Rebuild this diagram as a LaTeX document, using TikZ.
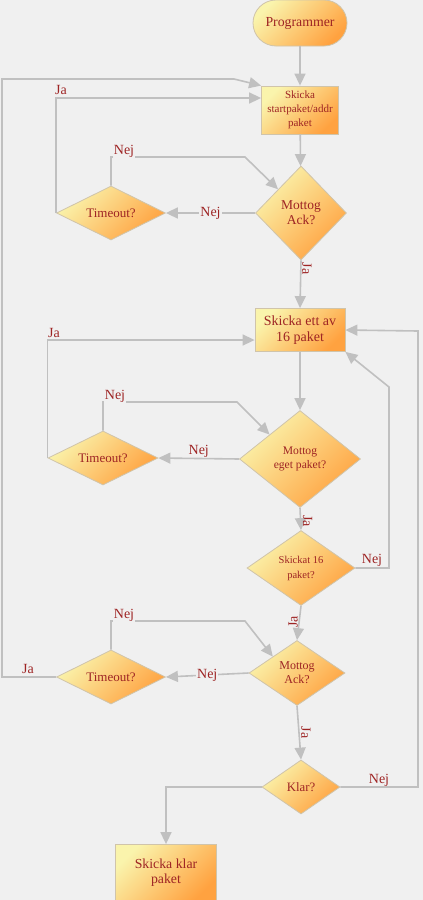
\documentclass[tikz,border=0pt]{standalone}
\usepackage{fontspec}
\setmainfont{Liberation Serif}
\usetikzlibrary{shapes.geometric,arrows.meta}
\definecolor{bg}{RGB}{240,240,240}
\definecolor{lyellow}{RGB}{250,244,172}
\definecolor{dorange}{RGB}{255,162,64}
\definecolor{rim}{RGB}{208,196,170}
\definecolor{wire}{RGB}{192,192,192}
\definecolor{ink}{RGB}{158,36,36}
\newcommand{\fs}[2]{\fontsize{#1}{#2}\selectfont}

\begin{document}
\begin{tikzpicture}[x=1pt,y=-1pt]

      \tikzset{filled/.style={draw=rim, line width=0.8pt, top color=lyellow, bottom color=dorange, shading angle=45, text=ink, align=center, inner sep=0pt},
               terminal/.style={filled, rectangle, rounded corners=23pt},
               boxed/.style={filled, rectangle},
               choice/.style={filled, diamond},
               flow/.style={draw=wire, line width=1.6pt, -{Triangle[length=12pt,width=11pt]}},
               lbl/.style={text=ink, font=\fs{14}{14}, inner sep=1pt}}
      \fill[bg] (0,0) rectangle (423,900);
      \useasboundingbox (0,0) rectangle (423,900);
%% Nodes
      	\node[terminal, minimum width=94pt, minimum height=46pt, font=\fs{13.8}{15}] (prog) at (300,23) {Programmer};
      	\node[boxed, minimum width=77pt, minimum height=48pt, font=\fs{11}{14}] (start) at (300,110) {Skicka\\startpaket/addr\\paket};
      	\node[choice, shape aspect=0.97, minimum width=91pt, minimum height=94pt, font=\fs{13.5}{15}] (ack1) at (301,213) {Mottog\\Ack?};
      	\node[choice, shape aspect=2, minimum width=109pt, minimum height=54pt, font=\fs{13}{14}] (time1) at (111,213) {Timeout?};
      	\node[boxed, minimum width=90pt, minimum height=43pt, font=\fs{14}{16}] (send) at (300,330) {Skicka ett av\\16 paket};
      	\node[choice, shape aspect=1.25, minimum width=121pt, minimum height=97pt, font=\fs{11.6}{14}] (own) at (300,459) {Mottog\\eget paket?};
      	\node[choice, shape aspect=2, minimum width=110pt, minimum height=54pt, font=\fs{13}{14}] (time2) at (103,458) {Timeout?};
      	\node[choice, shape aspect=1.44, minimum width=108pt, minimum height=75pt, font=\fs{10.5}{15}] (sent) at (301,568) {Skickat 16\\paket?};
      	\node[choice, shape aspect=1.48, minimum width=96pt, minimum height=65pt, font=\fs{12}{14}] (ack2) at (297,673) {Mottog\\Ack?};
      	\node[choice, shape aspect=2, minimum width=109pt, minimum height=54pt, font=\fs{13}{14}] (time3) at (111,677) {Timeout?};
      	\node[choice, shape aspect=1.44, minimum width=78pt, minimum height=54pt, font=\fs{12.8}{14}] (done) at (301,787) {Klar?};
      	\node[boxed, minimum width=101pt, minimum height=57pt, font=\fs{13.8}{15}] (last) at (166,873) {Skicka klar\\paket};
%Edges
		\path (prog) edge[flow] (start);
		\path (start) edge[flow] (ack1);
		\draw[flow] (ack1.west) -- node[lbl, midway, fill=bg] {Nej} (time1.east);
		\draw[flow] (time1.north) |- (245,157) -- (ack1.north west);
		\node[lbl, fill=bg] at (124,151) {Nej};
		\draw[flow] (time1.west) |- ([yshift=12pt]start.west);
		\node[lbl] at (61,90) {Ja};
		\draw[flow] (ack1.south) -- node[lbl, pos=0.17, xshift=6pt, rotate=-90] {Ja} (send.north);
		\path (send) edge[flow] (own);
		\draw[flow] (own.west) -- node[lbl, midway, yshift=7pt] {Nej} (time2.east);
		\draw[flow] (time2.north) |- (237,402) -- (own.north west);
		\node[lbl, fill=bg] at (115,396) {Nej};
		\draw[flow] (time2.west) |- ([yshift=-10pt]send.west);
		\node[lbl] at (54,333) {Ja};
		\draw[flow] (own.south) -- node[lbl, pos=0.6, xshift=7pt, rotate=-90] {Ja} (sent.north);
		\draw[flow] (sent.east) -| (389,387) -- (send.south east);
		\node[lbl] at (372,560) {Nej};
		\draw[flow] (sent.south) -- node[lbl, pos=0.47, xshift=-6pt, rotate=90] {Ja} (ack2.north);
		\draw[flow] (ack2.west) -- node[lbl, midway, fill=bg] {Nej} (time3.east);
		\draw[flow] (time3.north) |- (245,621) -- (ack2.north west);
		\node[lbl, fill=bg] at (124,615) {Nej};
		\draw[flow] (time3.west) -- (2,677) |- (234,79) -- (start.north west);
		\node[lbl] at (28,669) {Ja};
		\draw[flow] (ack2.south) -- node[lbl, midway, xshift=7pt, rotate=-90] {Ja} (done.north);
		\draw[flow] (done.east) -| (418,331) -- (send.east);
		\node[lbl] at (379,780) {Nej};
		\draw[flow] (done.west) -| (last.north);

	\end{tikzpicture}
\end{document}
